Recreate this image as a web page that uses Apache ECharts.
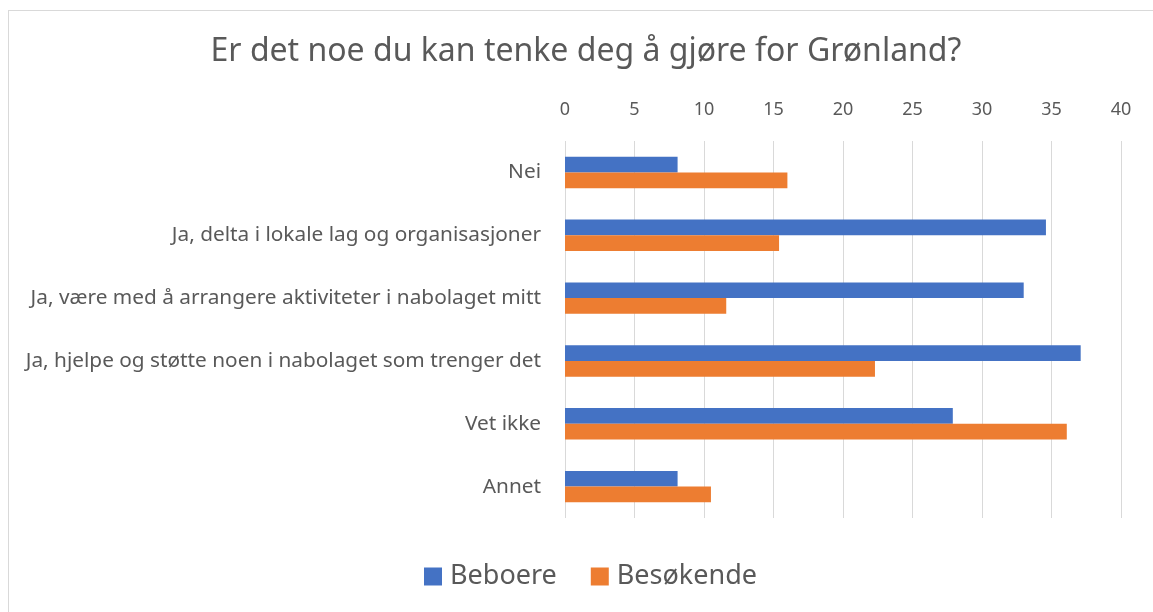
<!DOCTYPE html>
<html>
<head>
<meta charset="utf-8">
<script src="https://cdn.jsdelivr.net/npm/echarts@6/dist/echarts.min.js"></script>
<style>
  html, body { margin: 0; padding: 0; background: #fff; }
  #frame { position: absolute; left: 8px; top: 10px; width: 1160px; height: 620px; border: 1px solid #d9d9d9; }
  #chart { position: absolute; left: 0; top: 0; width: 1153px; height: 612px; }
</style>
</head>
<body>
<div id="frame"></div>
<div id="chart"></div>
<script>
// categories top to bottom
const categories = [
  'Nei',
  'Ja, delta i lokale lag og organisasjoner',
  'Ja, være med å arrangere aktiviteter i nabolaget mitt',
  'Ja, hjelpe og støtte noen i nabolaget som trenger det',
  'Vet ikke',
  'Annet'
]
const beboere = [8.1, 34.6, 33.0, 37.1, 27.9, 8.1]
const besokende = [16.0, 15.4, 11.6, 22.3, 36.1, 10.5]

const font = 'Noto Sans'
const textColor = '#595959'

const chart = echarts.init(document.getElementById('chart'))
chart.setOption({
  animation: false,
  title: {
    text: 'Er det noe du kan tenke deg å gjøre for Grønland?',
    left: 581,
    textAlign: 'center',
    top: 31,
    textStyle: { fontFamily: font, fontSize: 32, fontWeight: 'normal', color: textColor }
  },
  legend: {
    data: ['Beboere', 'Besøkende'],
    bottom: 17,
    left: 419,
    itemWidth: 18,
    itemHeight: 18,
    itemGap: 34,
    icon: 'rect',
    textStyle: { fontFamily: font, fontSize: 27, color: textColor, padding: [0, 0, 0, 3] }
  },
  grid: { left: 565, right: 32, top: 141, bottom: 94 },
  xAxis: {
    type: 'value',
    position: 'top',
    min: 0,
    max: 40,
    interval: 5,
    axisLine: { show: false },
    axisTick: { show: false },
    splitLine: { lineStyle: { color: '#d9d9d9', width: 1 } },
    axisLabel: { fontFamily: font, fontSize: 18, color: textColor, margin: 22 }
  },
  yAxis: {
    type: 'category',
    inverse: true,
    data: categories,
    axisLine: { show: false },
    axisTick: { show: false },
    axisLabel: { fontFamily: font, fontSize: 20.8, color: textColor, margin: 24 }
  },
  series: [
    {
      name: 'Beboere',
      type: 'bar',
      data: beboere,
      barGap: '0%',
      barCategoryGap: '50%',
      itemStyle: { color: '#4472c4' }
    },
    {
      name: 'Besøkende',
      type: 'bar',
      data: besokende,
      itemStyle: { color: '#ed7d31' }
    }
  ]
})
</script>
</body>
</html>
